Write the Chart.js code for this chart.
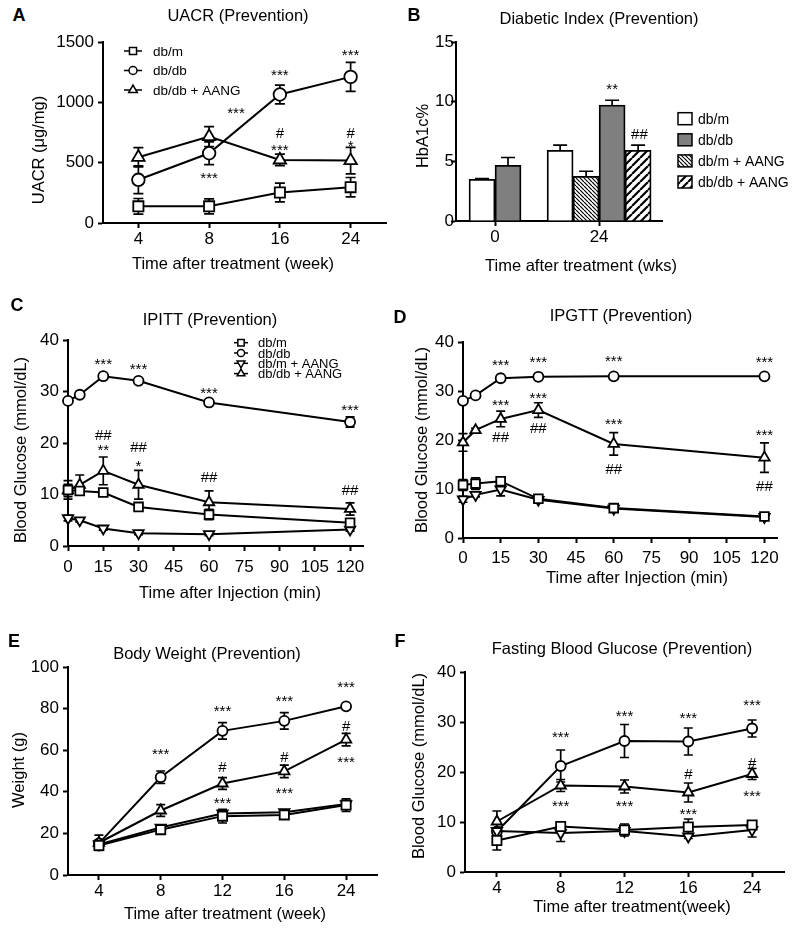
<!DOCTYPE html>
<html>
<head>
<meta charset="utf-8">
<script src="https://cdn.jsdelivr.net/npm/chart.js@4.4.1/dist/chart.umd.min.js"></script>
<style>
  body { margin: 0; background: #fff; width: 795px; height: 930px; position: relative; overflow: hidden;
         font-family: "Liberation Sans", Arial, sans-serif; color: #000; }
  canvas { position: absolute; }
  .t { position: absolute; white-space: nowrap; line-height: 1; font-size: 16.5px; transform: translate(-50%, -50%); }
  .v { transform: translate(-50%, -50%) rotate(-90deg); }
  .p { font-weight: bold; font-size: 18px; }
</style>
</head>
<body>
<canvas id="cA"></canvas>
<canvas id="cB"></canvas>
<canvas id="cC"></canvas>
<canvas id="cD"></canvas>
<canvas id="cE"></canvas>
<canvas id="cF"></canvas>

<!-- panel letters, titles, axis titles -->
<div class="t p" style="left:19px;top:15px">A</div>
<div class="t" style="left:238px;top:15px">UACR (Prevention)</div>
<div class="t" style="left:233px;top:263px">Time after treatment (week)</div>
<div class="t v" style="left:38px;top:150px">UACR (μg/mg)</div>

<div class="t p" style="left:414px;top:15px">B</div>
<div class="t" style="left:599px;top:18px">Diabetic Index (Prevention)</div>
<div class="t" style="left:581px;top:265px">Time after treatment (wks)</div>
<div class="t v" style="left:422px;top:136px">HbA1c%</div>

<div class="t p" style="left:17px;top:305px">C</div>
<div class="t" style="left:210px;top:319px">IPITT (Prevention)</div>
<div class="t" style="left:230px;top:592px">Time after Injection (min)</div>
<div class="t v" style="left:20px;top:450px">Blood Glucose (mmol/dL)</div>

<div class="t p" style="left:400px;top:317px">D</div>
<div class="t" style="left:621px;top:315px">IPGTT (Prevention)</div>
<div class="t" style="left:637px;top:577px">Time after Injection (min)</div>
<div class="t v" style="left:421px;top:440px">Blood Glucose (mmol/dL)</div>

<div class="t p" style="left:14px;top:641px">E</div>
<div class="t" style="left:207px;top:653px">Body Weight (Prevention)</div>
<div class="t" style="left:225px;top:913px">Time after treatment (week)</div>
<div class="t v" style="left:18px;top:770px">Weight (g)</div>

<div class="t p" style="left:400px;top:641px">F</div>
<div class="t" style="left:622px;top:648px">Fasting Blood Glucose (Prevention)</div>
<div class="t" style="left:632px;top:906px">Time after treatment(week)</div>
<div class="t v" style="left:418px;top:766px">Blood Glucose (mmol/dL)</div>

<script>
// ---- data ----
const groups = ['db/m', 'db/db', 'db/m + AANG', 'db/db + AANG'];

// A: UACR
const weeksA = ['4', '8', '16', '24'];
const uacrDbm = [138, 138, 253, 297];
const uacrDbmSem = [65, 62, 78, 80];
const uacrDbdb = [358, 578, 1065, 1211];
const uacrDbdbSem = [115, 95, 77, 120];
const uacrAang = [545, 716, 523, 517];
const uacrAangSem = [80, 82, 48, 110];
const marksA = [[1.38, 941, '***'], [1, 399, '***'], [2, 1252, '***'], [2, 749, '#'], [2, 633, '***'],
                [3, 1423, '***'], [3, 749, '#'], [3, 666, '*']];

// B: HbA1c
const wksB = [0, 24];
const hbDbm = [3.5, 5.93];
const hbDbmSem = [0.06, 0.42];
const hbDbmAang = [null, 3.75];
const hbDbmAangSem = [null, 0.42];
const hbDbdb = [4.67, 9.72];
const hbDbdbSem = [0.65, 0.4];
const hbDbdbAang = [null, 5.93];
const hbDbdbAangSem = [null, 0.42];
const marksB = [[27, 11.4, '**'], [33.3, 7.3, '##']];

// C: IPITT
const injMin = [0, 5, 15, 30, 60, 120];
const ipittDbm = [10.9, 10.7, 10.4, 7.6, 6.1, 4.5];
const ipittDbmSem = [1.8, 0.6, 0.6, 0.6, 1.0, 0.6];
const ipittDbdb = [28.2, 29.4, 33.0, 32.1, 27.9, 24.1];
const ipittDbdbSem = [0.3, 0.3, 0.3, 0.3, 0.3, 1.0];
const ipittDbmAang = [5.4, 5.0, 3.4, 2.5, 2.3, 3.2];
const ipittDbmAangSem = [0.5, 0.3, 0.3, 0.3, 0.3, 0.3];
const ipittAang = [10.8, 11.9, 14.6, 11.9, 8.5, 7.2];
const ipittAangSem = [1.2, 1.9, 2.7, 2.8, 2.2, 1.2];
const marksC = [[15, 36.0, '***'], [30, 35.0, '***'], [60, 30.5, '***'], [120, 27.2, '***'],
                [15, 21.6, '##'], [15, 19.3, '**'], [30, 19.3, '##'], [30, 16.2, '*'],
                [60, 13.5, '##'], [120, 11.0, '##']];

// D: IPGTT
const ipgttDbm = [10.8, 11.1, 11.6, 8.0, 6.1, 4.4];
const ipgttDbmSem = [1.1, 1.2, 0.8, 0.5, 0.4, 0.4];
const ipgttDbdb = [28.0, 29.1, 32.6, 32.9, 33.0, 33.0];
const ipgttDbdbSem = [0.3, 0.3, 0.3, 0.3, 0.3, 0.3];
const ipgttDbmAang = [7.9, 8.8, 9.9, 7.8, 6.0, 4.3];
const ipgttDbmAangSem = [0.6, 0.4, 1.3, 0.7, 0.4, 0.3];
const ipgttAang = [19.5, 22.0, 24.3, 26.1, 19.2, 16.4];
const ipgttAangSem = [1.8, 0.4, 1.6, 1.5, 2.3, 3.0];
const marksD = [[15, 36.1, '***'], [30, 36.6, '***'], [60, 36.9, '***'], [120, 36.6, '***'],
                [15, 27.9, '***'], [15, 20.6, '##'], [30, 29.2, '***'], [30, 22.5, '##'],
                [60, 23.9, '***'], [60, 14.2, '##'], [120, 21.7, '***'], [120, 10.6, '##']];

// E: body weight
const weeksEF = ['4', '8', '12', '16', '24'];
const bwDbm = [14.2, 21.8, 28.3, 28.9, 33.6];
const bwDbmSem = [1.5, 1.2, 3.3, 1.5, 3.0];
const bwDbdb = [15.2, 47.0, 69.3, 74.1, 81.1];
const bwDbdbSem = [1.5, 3.0, 4.0, 4.0, 1.0];
const bwDbmAang = [14.7, 22.8, 29.6, 30.2, 34.1];
const bwDbmAangSem = [1.0, 1.0, 1.0, 1.0, 1.0];
const bwAang = [15.5, 31.0, 44.0, 49.8, 65.1];
const bwAangSem = [3.7, 2.8, 2.8, 3.0, 3.0];
const marksE = [[1, 59.7, '***'], [2, 80.5, '***'], [3, 85.6, '***'], [4, 92, '***'],
                [2, 52, '#'], [3, 56.8, '#'], [4, 71.7, '#'],
                [2, 36.5, '***'], [3, 41.3, '***'], [4, 56, '***']];

// F: fasting blood glucose
const fbgDbm = [6.3, 9.1, 8.4, 9.0, 9.4];
const fbgDbmSem = [1.9, 0.6, 1.2, 1.6, 0.5];
const fbgDbdb = [8.1, 21.2, 26.2, 26.1, 28.7];
const fbgDbdbSem = [0.4, 3.2, 3.3, 2.7, 1.7];
const fbgDbmAang = [8.2, 7.8, 8.2, 7.1, 8.4];
const fbgDbmAangSem = [0.4, 1.7, 0.5, 0.4, 1.4];
const fbgAang = [10.1, 17.3, 17.1, 15.9, 19.6];
const fbgAangSem = [2.1, 1.2, 1.3, 1.9, 1.1];
const marksF = [[1, 27.7, '***'], [2, 32, '***'], [3, 31.5, '***'], [4, 34.2, '***'],
                [3, 19.6, '#'], [4, 21.9, '#'],
                [1, 13.9, '***'], [2, 13.9, '***'], [3, 12.3, '***'], [4, 15.9, '***']];

// ---- layout (page pixels): canvas box + plot area ----
const boxA = { left: 40, top: 22, right: 395, bottom: 255, x1: 103, x2: 388, y1: 42, y2: 223 };
const boxB = { left: 400, top: 22, right: 795, bottom: 255, x1: 456, x2: 662, y1: 42, y2: 221 };
const boxC = { left: 25, top: 326, right: 385, bottom: 585, x1: 68, x2: 363, y1: 340, y2: 546 };
const boxD = { left: 425, top: 326, right: 795, bottom: 572, x1: 463, x2: 777, y1: 342, y2: 538 };
const boxE = { left: 25, top: 650, right: 395, bottom: 905, x1: 68, x2: 377, y1: 667, y2: 875 };
const boxF = { left: 425, top: 655, right: 795, bottom: 900, x1: 465, x2: 784, y1: 672, y2: 872 };

const FONT = '"Liberation Sans", Arial, sans-serif';
Chart.defaults.font.family = FONT;
Chart.defaults.color = '#000';

// error bars (drawn under the markers, or over the bars)
const errorBars = {
  id: 'errorBars',
  draw(chart, opts, onTop) {
    if (!opts.sems || !!opts.onTop !== onTop) return;
    const ctx = chart.ctx, ys = chart.scales.y;
    ctx.save();
    ctx.strokeStyle = '#000';
    ctx.lineWidth = opts.width || 1.7;
    opts.sems.forEach((sem, di) => {
      const meta = chart.getDatasetMeta(di);
      const data = chart.data.datasets[di].data;
      sem.forEach((e, i) => {
        const d = data[i];
        const v = d !== null && typeof d === 'object' ? d.y : d;
        const el = meta.data[i];
        if (e == null || v == null || !el) return;
        const x = el.x, c = opts.cap;
        const top = ys.getPixelForValue(v + e);
        const bot = opts.upOnly ? ys.getPixelForValue(v) : ys.getPixelForValue(v - e);
        ctx.beginPath();
        ctx.moveTo(x, bot); ctx.lineTo(x, top);
        ctx.moveTo(x - c, top); ctx.lineTo(x + c, top);
        if (!opts.upOnly) { ctx.moveTo(x - c, bot); ctx.lineTo(x + c, bot); }
        ctx.stroke();
      });
    });
    ctx.restore();
  },
  beforeDatasetsDraw(chart, args, opts) { this.draw(chart, opts, false); },
  afterDatasetsDraw(chart, args, opts) { this.draw(chart, opts, true); },
};

// significance marks at data coordinates
const sigMarks = {
  id: 'sigMarks',
  afterDatasetsDraw(chart, args, opts) {
    if (!opts.items) return;
    const ctx = chart.ctx, xs = chart.scales.x, ys = chart.scales.y;
    ctx.save();
    ctx.fillStyle = '#000';
    ctx.textAlign = 'center';
    ctx.textBaseline = 'alphabetic';
    opts.items.forEach(([xv, yv, txt]) => {
      const star = txt.includes('*');
      const size = star ? (opts.starSize || 15) : (opts.hashSize || 15);
      ctx.font = size + 'px ' + FONT;
      ctx.fillText(txt, xs.getPixelForValue(xv), ys.getPixelForValue(yv) + (star ? 0.57 : 0.36) * size);
    });
    ctx.restore();
  }
};

// legend drawn at a fixed spot relative to the plot area
const keyLegend = {
  id: 'keyLegend',
  afterDraw(chart, args, opts) {
    if (!opts.dx) return;
    const ctx = chart.ctx, a = chart.chartArea;
    const order = opts.order || chart.data.datasets.map((_, i) => i);
    ctx.save();
    ctx.font = opts.size + 'px ' + FONT;
    ctx.textBaseline = 'middle';
    ctx.textAlign = 'left';
    order.forEach((di, row) => {
      const ds = chart.data.datasets[di];
      const x = a.left + opts.dx, y = a.top + opts.dy + row * opts.gap;
      ctx.strokeStyle = '#000';
      ctx.lineWidth = 1.5;
      if (opts.box) {
        const [w, h] = opts.box;
        ctx.fillStyle = ds.backgroundColor;
        ctx.fillRect(x, y - h / 2, w, h);
        ctx.strokeRect(x, y - h / 2, w, h);
      } else {
        ctx.beginPath();
        ctx.moveTo(x - opts.half, y); ctx.lineTo(x + opts.half, y);
        ctx.stroke();
        ctx.fillStyle = '#fff';
        Chart.helpers.drawPoint(ctx, {
          pointStyle: ds.pointStyle, rotation: ds.pointRotation,
          radius: opts.radius[ds.pointStyle], borderWidth: 1.4
        }, x, y);
      }
      ctx.fillStyle = '#000';
      ctx.fillText(ds.label, a.left + opts.tx, y + 1);
    });
    ctx.restore();
  }
};

Chart.register(errorBars, sigMarks, keyLegend);

function setupCanvas(id, box) {
  const c = document.getElementById(id);
  c.width = box.right - box.left;
  c.height = box.bottom - box.top;
  c.style.left = box.left + 'px';
  c.style.top = box.top + 'px';
  return c;
}

function xAxis(box, extra, pad) {
  return Object.assign({
    offset: true,
    border: { color: '#000', width: 2 },
    grid: { drawOnChartArea: false, tickLength: 5, tickWidth: 2, tickColor: '#000', offset: false },
    ticks: { font: { size: 17 }, padding: pad == null ? 1 : pad, maxRotation: 0, autoSkip: false, color: '#000' },
    afterFit: s => { s.height = box.bottom - box.y2; },
  }, extra);
}

function yAxis(box, min, max, step, pad) {
  return {
    min, max,
    border: { color: '#000', width: 2 },
    grid: { drawOnChartArea: false, tickLength: 5, tickWidth: 2, tickColor: '#000' },
    ticks: { stepSize: step, font: { size: 17 }, padding: pad == null ? 4 : pad, color: '#000',
             callback: v => String(v) },
    afterFit: s => { s.width = box.x1 - box.left; },
  };
}

const STYLE = {
  'db/m': ['rect', 0],
  'db/db': ['circle', 0],
  'db/m + AANG': ['triangle', 180],
  'db/db + AANG': ['triangle', 0],
};

function series(label, xs, ys, r) {
  const [style, rot] = STYLE[label];
  return {
    label,
    data: xs ? ys.map((v, i) => ({ x: xs[i], y: v })) : ys,
    borderColor: '#000', borderWidth: 2, backgroundColor: '#fff',
    pointStyle: style, pointRotation: rot, pointRadius: r[style], pointBorderWidth: 1.8,
    pointBackgroundColor: '#fff', pointBorderColor: '#000',
    clip: false,
  };
}

function baseOptions(box) {
  return {
    responsive: false,
    animation: false,
    events: [],
    layout: { padding: { top: box.y1 - box.top, right: box.right - box.x2, left: 0, bottom: 0 } },
  };
}

// ---- A ----
const rA = { rect: 7.2, circle: 6.3, triangle: 7.2 };
new Chart(setupCanvas('cA', boxA), {
  type: 'line',
  data: {
    labels: weeksA,
    datasets: [
      series(groups[0], null, uacrDbm, rA),
      series(groups[1], null, uacrDbdb, rA),
      series(groups[3], null, uacrAang, rA),
    ]
  },
  options: Object.assign(baseOptions(boxA), {
    scales: { x: xAxis(boxA), y: yAxis(boxA, 0, 1500, 500) },
    plugins: {
      legend: { display: false }, tooltip: { enabled: false },
      errorBars: { sems: [uacrDbmSem, uacrDbdbSem, uacrAangSem], cap: 5 },
      sigMarks: { items: marksA },
      keyLegend: { dx: 30, dy: 9, gap: 19.5, tx: 50, size: 13.5, half: 9,
                   radius: { rect: 5, circle: 4, triangle: 5 } },
    }
  })
});

// ---- B ----
function hatch(ctx, size, lw, rising) {
  const c = document.createElement('canvas');
  c.width = c.height = size;
  const g = c.getContext('2d');
  g.fillStyle = '#fff';
  g.fillRect(0, 0, size, size);
  g.strokeStyle = '#000';
  g.lineWidth = lw;
  g.beginPath();
  for (let k = -1; k <= 1; k++) {
    if (rising) { g.moveTo(k * size, size); g.lineTo(k * size + size, 0); }
    else { g.moveTo(k * size, 0); g.lineTo(k * size + size, size); }
  }
  g.stroke();
  return ctx.createPattern(c, 'repeat');
}

const canvasB = setupCanvas('cB', boxB);
const ctxB = canvasB.getContext('2d');
const fillB = ['#fff', hatch(ctxB, 4, 1.2, false), '#7f7f7f', hatch(ctxB, 8, 2.2, true)];

function barSet(label, vals, fill) {
  return {
    label,
    data: vals.map((v, i) => ({ x: wksB[i], y: v })),
    backgroundColor: fill, borderColor: '#000', borderWidth: 1.8,
    barThickness: 26, skipNull: true,
  };
}

new Chart(canvasB, {
  type: 'bar',
  data: {
    datasets: [
      barSet(groups[0], hbDbm, fillB[0]),
      barSet(groups[2], hbDbmAang, fillB[1]),
      barSet(groups[1], hbDbdb, fillB[2]),
      barSet(groups[3], hbDbdbAang, fillB[3]),
    ]
  },
  options: Object.assign(baseOptions(boxB), {
    scales: {
      x: xAxis(boxB, {
        type: 'linear', offset: false, min: -9, max: 38.5,
        afterBuildTicks: s => { s.ticks = wksB.map(v => ({ value: v })); },
      }),
      y: yAxis(boxB, 0, 15, 5, -3),
    },
    plugins: {
      legend: { display: false }, tooltip: { enabled: false },
      errorBars: { sems: [hbDbmSem, hbDbmAangSem, hbDbdbSem, hbDbdbAangSem], cap: 7, upOnly: true, onTop: true },
      sigMarks: { items: marksB },
      keyLegend: { dx: 222, dy: 76.7, gap: 21.1, tx: 242, size: 14, box: [14, 12], order: [0, 2, 1, 3] },
    }
  })
});

// ---- C and D ----
function minuteAxis(box, max, pad) {
  return xAxis(box, {
    type: 'linear', offset: false, min: 0, max,
    ticks: { stepSize: 15, includeBounds: false, font: { size: 17 }, padding: pad, maxRotation: 0, autoSkip: false, color: '#000' },
  });
}

const rCD = { rect: 6.2, circle: 5, triangle: 6 };
new Chart(setupCanvas('cC', boxC), {
  type: 'line',
  data: {
    datasets: [
      series(groups[0], injMin, ipittDbm, rCD),
      series(groups[1], injMin, ipittDbdb, rCD),
      series(groups[2], injMin, ipittDbmAang, rCD),
      series(groups[3], injMin, ipittAang, rCD),
    ]
  },
  options: Object.assign(baseOptions(boxC), {
    scales: { x: minuteAxis(boxC, 125.5, 6), y: yAxis(boxC, 0, 40, 10) },
    plugins: {
      legend: { display: false }, tooltip: { enabled: false },
      errorBars: { sems: [ipittDbmSem, ipittDbdbSem, ipittDbmAangSem, ipittAangSem], cap: 4.5 },
      sigMarks: { items: marksC },
      keyLegend: { dx: 173, dy: 2.5, gap: 10.3, tx: 190, size: 13, half: 7,
                   radius: { rect: 4.5, circle: 3.6, triangle: 4.5 } },
    }
  })
});

new Chart(setupCanvas('cD', boxD), {
  type: 'line',
  data: {
    datasets: [
      series(groups[0], injMin, ipgttDbm, rCD),
      series(groups[1], injMin, ipgttDbdb, rCD),
      series(groups[2], injMin, ipgttDbmAang, rCD),
      series(groups[3], injMin, ipgttAang, rCD),
    ]
  },
  options: Object.assign(baseOptions(boxD), {
    scales: { x: minuteAxis(boxD, 125, 5), y: yAxis(boxD, 0, 40, 10) },
    plugins: {
      legend: { display: false }, tooltip: { enabled: false },
      errorBars: { sems: [ipgttDbmSem, ipgttDbdbSem, ipgttDbmAangSem, ipgttAangSem], cap: 4.5 },
      sigMarks: { items: marksD },
    }
  })
});

// ---- E and F ----
const rEF = { rect: 6.5, circle: 5, triangle: 6 };
new Chart(setupCanvas('cE', boxE), {
  type: 'line',
  data: {
    labels: weeksEF,
    datasets: [
      series(groups[0], null, bwDbm, rEF),
      series(groups[2], null, bwDbmAang, rEF),
      series(groups[3], null, bwAang, rEF),
      series(groups[1], null, bwDbdb, rEF),
    ]
  },
  options: Object.assign(baseOptions(boxE), {
    scales: { x: xAxis(boxE), y: yAxis(boxE, 0, 100, 20) },
    plugins: {
      legend: { display: false }, tooltip: { enabled: false },
      errorBars: { sems: [bwDbmSem, bwDbmAangSem, bwAangSem, bwDbdbSem], cap: 4.5 },
      sigMarks: { items: marksE },
    }
  })
});

new Chart(setupCanvas('cF', boxF), {
  type: 'line',
  data: {
    labels: weeksEF,
    datasets: [
      series(groups[0], null, fbgDbm, rEF),
      series(groups[2], null, fbgDbmAang, rEF),
      series(groups[3], null, fbgAang, rEF),
      series(groups[1], null, fbgDbdb, rEF),
    ]
  },
  options: Object.assign(baseOptions(boxF), {
    scales: { x: xAxis(boxF), y: yAxis(boxF, 0, 40, 10) },
    plugins: {
      legend: { display: false }, tooltip: { enabled: false },
      errorBars: { sems: [fbgDbmSem, fbgDbmAangSem, fbgAangSem, fbgDbdbSem], cap: 4.5 },
      sigMarks: { items: marksF },
    }
  })
});
</script>
</body>
</html>
